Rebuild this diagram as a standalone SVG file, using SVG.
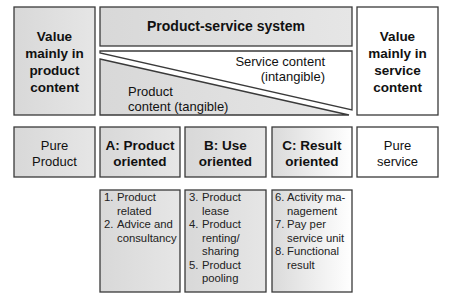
<svg xmlns="http://www.w3.org/2000/svg" width="452" height="303" viewBox="0 0 452 303">
<defs>
<linearGradient id="g" x1="0" y1="0" x2="1" y2="0"><stop offset="0" stop-color="#d8d8d8"/><stop offset="1" stop-color="#e6e6e6"/></linearGradient>
<linearGradient id="gw" x1="0" y1="0" x2="1" y2="0"><stop offset="0" stop-color="#dadada"/><stop offset="1" stop-color="#ffffff"/></linearGradient>
<style>
.b{stroke:#3a3a3a;stroke-width:1.3;}
.gray{fill:url(#g);}
.grad{fill:url(#gw);}
.white{fill:#ffffff;}
text{font-family:"Liberation Sans",Arial,sans-serif;fill:#111;}
.bold{font-weight:bold;font-size:13.5px;text-anchor:middle;}
.norm{font-size:13px;text-anchor:middle;}
.sm{font-size:11.3px;fill:#222;}
</style>
</defs>
<rect width="452" height="303" fill="#ffffff"/>

<g id="value-product">
<rect class="b gray" x="14" y="7" width="81" height="108"/>
<text class="bold" x="54.5" y="41">Value</text>
<text class="bold" x="54.5" y="58">mainly in</text>
<text class="bold" x="54.5" y="75">product</text>
<text class="bold" x="54.5" y="92">content</text>
</g>

<g id="ps-system">
<rect class="b gray" x="100" y="7" width="252" height="39"/>
<text class="bold" x="226" y="31" style="font-size:14px">Product-service system</text>
</g>

<g id="content-split">
<polygon class="b white" points="100,51 352,51 352,110 100,53"/>
<polygon class="b gray" points="100,59 349,115 100,115"/>
<text class="norm" x="325" y="66" style="text-anchor:end">Service content</text>
<text class="norm" x="325" y="81" style="text-anchor:end">(intangible)</text>
<text class="norm" x="128" y="96" style="text-anchor:start">Product</text>
<text class="norm" x="128" y="111" style="text-anchor:start">content (tangible)</text>
</g>

<g id="value-service">
<rect class="b white" x="357" y="7" width="81" height="108"/>
<text class="bold" x="397.5" y="41">Value</text>
<text class="bold" x="397.5" y="58">mainly in</text>
<text class="bold" x="397.5" y="75">service</text>
<text class="bold" x="397.5" y="92">content</text>
</g>

<g id="pure-product">
<rect class="b gray" x="14" y="127" width="81" height="50"/>
<text class="norm" x="54.5" y="150">Pure</text>
<text class="norm" x="54.5" y="166">Product</text>
</g>

<g id="a-product">
<rect class="b gray" x="100" y="127" width="80" height="50"/>
<text class="bold" x="140" y="150">A: Product</text>
<text class="bold" x="140" y="166">oriented</text>
</g>

<g id="b-use">
<rect class="b gray" x="185" y="127" width="81" height="50"/>
<text class="bold" x="225.5" y="150">B: Use</text>
<text class="bold" x="225.5" y="166">oriented</text>
</g>

<g id="c-result">
<rect class="b grad" x="272" y="127" width="80" height="50"/>
<text class="bold" x="312" y="150">C: Result</text>
<text class="bold" x="312" y="166">oriented</text>
</g>

<g id="pure-service">
<rect class="b white" x="357" y="127" width="81" height="50"/>
<text class="norm" x="397.5" y="150">Pure</text>
<text class="norm" x="397.5" y="166">service</text>
</g>

<g id="list-a">
<rect class="b gray" x="100" y="190" width="80" height="102"/>
<text class="sm" x="104" y="201">1.</text><text class="sm" x="117" y="201">Product</text>
<text class="sm" x="117" y="214.5">related</text>
<text class="sm" x="104" y="228">2.</text><text class="sm" x="117" y="228">Advice and</text>
<text class="sm" x="117" y="241.5">consultancy</text>
</g>

<g id="list-b">
<rect class="b gray" x="185" y="190" width="81" height="102"/>
<text class="sm" x="189" y="201">3.</text><text class="sm" x="202" y="201">Product</text>
<text class="sm" x="202" y="214.5">lease</text>
<text class="sm" x="189" y="228">4.</text><text class="sm" x="202" y="228">Product</text>
<text class="sm" x="202" y="241.5">renting/</text>
<text class="sm" x="202" y="255">sharing</text>
<text class="sm" x="189" y="268.5">5.</text><text class="sm" x="202" y="268.5">Product</text>
<text class="sm" x="202" y="282">pooling</text>
</g>

<g id="list-c">
<rect class="b grad" x="272" y="190" width="80" height="102"/>
<text class="sm" x="275" y="201">6.</text><text class="sm" x="287" y="201">Activity ma-</text>
<text class="sm" x="287" y="214.5">nagement</text>
<text class="sm" x="275" y="228">7.</text><text class="sm" x="287" y="228">Pay per</text>
<text class="sm" x="287" y="241.5">service unit</text>
<text class="sm" x="275" y="255">8.</text><text class="sm" x="287" y="255">Functional</text>
<text class="sm" x="287" y="268.5">result</text>
</g>

<g id="connectors"></g>
</svg>
